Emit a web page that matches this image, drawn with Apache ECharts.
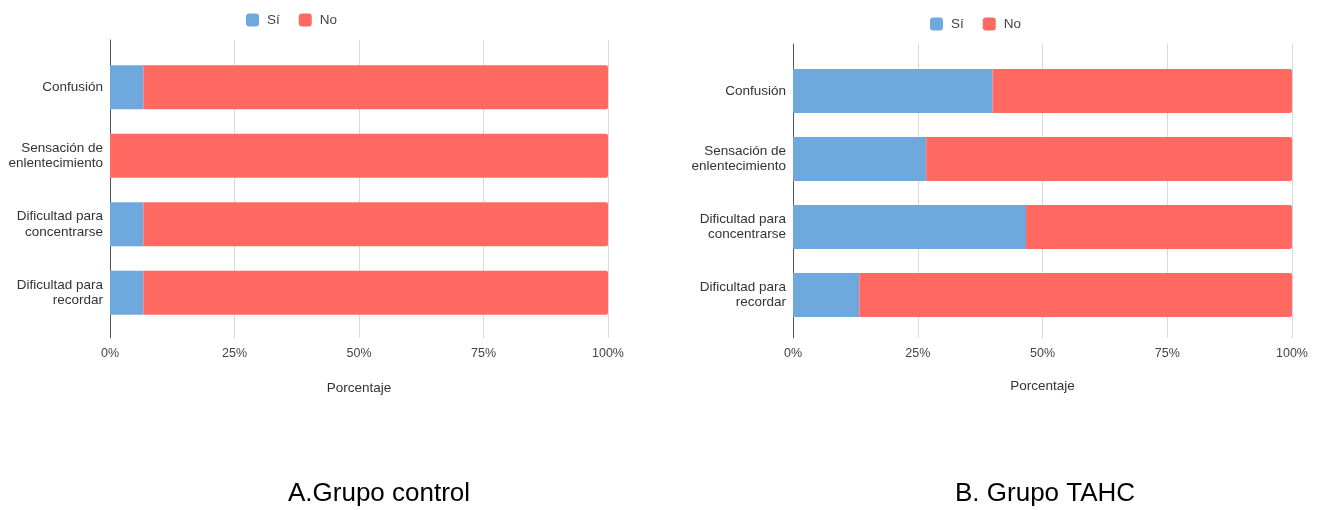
<!DOCTYPE html>
<html>
<head>
<meta charset="utf-8">
<script src="https://cdn.jsdelivr.net/npm/echarts@6/dist/echarts.min.js"></script>
<style>
  html, body { margin: 0; padding: 0; background: #fff; }
  #chart { width: 1323px; height: 510px; }
</style>
</head>
<body>
<div id="chart"></div>
<script>
// Síntomas cognitivos por grupo (porcentaje de respuestas Sí / No)
const categories = [
  'Confusión',
  'Sensación de\nenlentecimiento',
  'Dificultad para\nconcentrarse',
  'Dificultad para\nrecordar'
];
const controlSi = [6.7, 0, 6.7, 6.7];
const controlNo = [93.3, 100, 93.3, 93.3];
const tahcSi = [40, 26.7, 46.7, 13.3];
const tahcNo = [60, 73.3, 53.3, 86.7];
const percentTicks = ['0%', '25%', '50%', '75%', '100%'];
const captions = ['A.Grupo control', 'B. Grupo TAHC'];

const BLUE = '#6fa8dc';
const RED = '#ff6961';
const FONT = '"Liberation Sans", Arial, sans-serif';

// Panel geometry: outer frame (grid lines, axis) and inner band area for the bars
const panels = [
  { left: 110, width: 498, frameTop: 40, frameH: 298, barTop: 53, barH: 274, nameGap: 43,
    si: controlSi, no: controlNo, legendX: 246, legendY: 13 },
  { left: 793, width: 499, frameTop: 44, frameH: 294, barTop: 57, barH: 272, nameGap: 41,
    si: tahcSi, no: tahcNo, legendX: 930, legendY: 17 }
];

const grid = [], xAxis = [], yAxis = [], series = [], legend = [];

panels.forEach((p, i) => {
  const frameIdx = grid.length;
  grid.push({ left: p.left, width: p.width, top: p.frameTop, height: p.frameH });
  const barIdx = grid.length;
  grid.push({ left: p.left, width: p.width, top: p.barTop, height: p.barH });

  // frame axes: vertical grid lines, tick labels, axis title, left axis line
  xAxis.push({
    type: 'value', gridIndex: frameIdx, min: 0, max: 100, interval: 25,
    axisLine: { show: false }, axisTick: { show: false },
    splitLine: { lineStyle: { color: '#d9d9d9', width: 1 } },
    axisLabel: {
      margin: 9, color: '#444', fontSize: 12.5, fontFamily: FONT,
      formatter: v => percentTicks[Math.round(v / 25)]
    },
    name: 'Porcentaje', nameLocation: 'middle', nameGap: p.nameGap,
    nameTextStyle: { color: '#333', fontSize: 13.5, fontFamily: FONT }
  });
  yAxis.push({
    type: 'value', gridIndex: frameIdx, min: 0, max: 1,
    axisLine: { show: true, lineStyle: { color: '#555', width: 1 } },
    axisTick: { show: false }, axisLabel: { show: false }, splitLine: { show: false }
  });

  // bar axes
  xAxis.push({
    type: 'value', gridIndex: barIdx, min: 0, max: 100,
    show: false, splitLine: { show: false }
  });
  yAxis.push({
    type: 'category', gridIndex: barIdx, data: categories, inverse: true,
    axisLine: { show: false }, axisTick: { show: false },
    axisLabel: { margin: 7, color: '#333', fontSize: 13.5, fontFamily: FONT, lineHeight: 15.5, align: 'right' }
  });

  series.push({
    name: 'Sí', type: 'bar', stack: 'p' + i, xAxisIndex: barIdx, yAxisIndex: barIdx,
    data: p.si, barWidth: 44, itemStyle: { color: BLUE }, silent: true
  });
  series.push({
    name: 'No', type: 'bar', stack: 'p' + i, xAxisIndex: barIdx, yAxisIndex: barIdx,
    data: p.no, barWidth: 44, itemStyle: { color: RED, borderRadius: [0, 2, 2, 0] }, silent: true
  });

  legend.push({
    left: p.legendX, top: p.legendY, padding: 0, orient: 'horizontal',
    data: ['Sí', 'No'], icon: 'roundRect', itemWidth: 13, itemHeight: 13, itemGap: 19,
    textStyle: { color: '#444', fontSize: 13.5, fontFamily: FONT, padding: [0, 0, 0, 3] },
    selectedMode: false
  });
});

const chart = echarts.init(document.getElementById('chart'), null, { renderer: 'canvas' });
chart.setOption({
  backgroundColor: '#fff',
  animation: false,
  color: [BLUE, RED],
  grid, xAxis, yAxis, series, legend,
  graphic: [
    { type: 'text', left: 288, top: 481, style: { text: captions[0], fontSize: 26, fontFamily: FONT, fill: '#000' } },
    { type: 'text', left: 955, top: 481, style: { text: captions[1], fontSize: 26, fontFamily: FONT, fill: '#000' } }
  ]
});
</script>
</body>
</html>
